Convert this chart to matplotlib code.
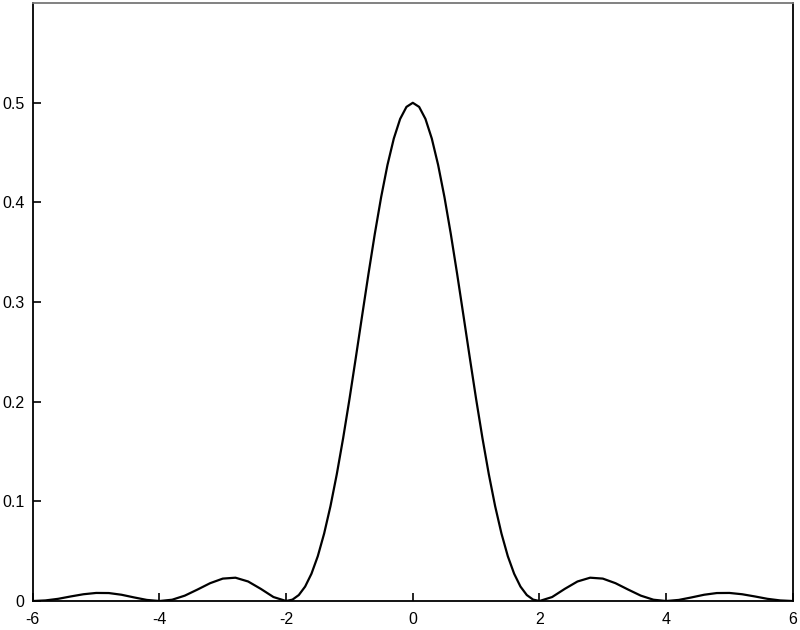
import matplotlib
matplotlib.use("Agg")
from matplotlib import pyplot as plt

# values, right half of the curve (the left half is its mirror)
x_half = [0.0, 0.1, 0.2, 0.3, 0.4, 0.5, 0.6, 0.7, 0.8, 0.9, 1.0, 1.1, 1.2, 1.3, 1.4,
          1.5, 1.6, 1.7, 1.8, 1.9, 2.0, 2.2, 2.4, 2.6, 2.8, 3.0, 3.2, 3.4, 3.6, 3.8,
          4.0, 4.2, 4.4, 4.6, 4.8, 5.0, 5.2, 5.4, 5.6, 5.8, 6.0]
y_half = [0.5, 0.4959, 0.4838, 0.4641, 0.4376, 0.4053, 0.3684, 0.3283, 0.2864, 0.2441,
          0.2026, 0.1634, 0.1273, 0.0952, 0.0677, 0.0450, 0.0274, 0.0145, 0.0060, 0.0014,
          0.0, 0.0040, 0.0122, 0.0196, 0.0234, 0.0225, 0.0179, 0.0115, 0.0054, 0.0013,
          0.0, 0.0011, 0.0036, 0.0063, 0.0080, 0.0081, 0.0068, 0.0046, 0.0022, 0.0006,
          0.0]

x = [-v for v in x_half[:0:-1]] + x_half
y = y_half[:0:-1] + y_half

xticks = [-6, -4, -2, 0, 2, 4, 6]
yticks = [0, 0.1, 0.2, 0.3, 0.4, 0.5]

plt.rcParams['font.family'] = ['Liberation Sans', 'DejaVu Sans']
fig = plt.figure(figsize=(8, 6.3), dpi=100)
ax = fig.add_axes([0.041, 0.046, 0.950, 0.949])
ax.plot(x, y, color='black', linewidth=1.6)
ax.set_xlim(-6, 6)
ax.set_ylim(0, 0.6)
ax.set_xticks(xticks)
ax.set_xticklabels([str(t) for t in xticks])
ax.set_yticks(yticks)
ax.set_yticklabels(['0', '0.1', '0.2', '0.3', '0.4', '0.5'])
ax.tick_params(direction='in', length=6, width=1.2, labelsize=11.5)
ax.tick_params(axis='y', pad=6)
ax.tick_params(axis='x', pad=8)
for s in ['left', 'bottom', 'right']:
    ax.spines[s].set_linewidth(1.3)
ax.spines['top'].set_color('#777777')
ax.spines['top'].set_linewidth(1.3)
fig.savefig('out.png', dpi=100)
